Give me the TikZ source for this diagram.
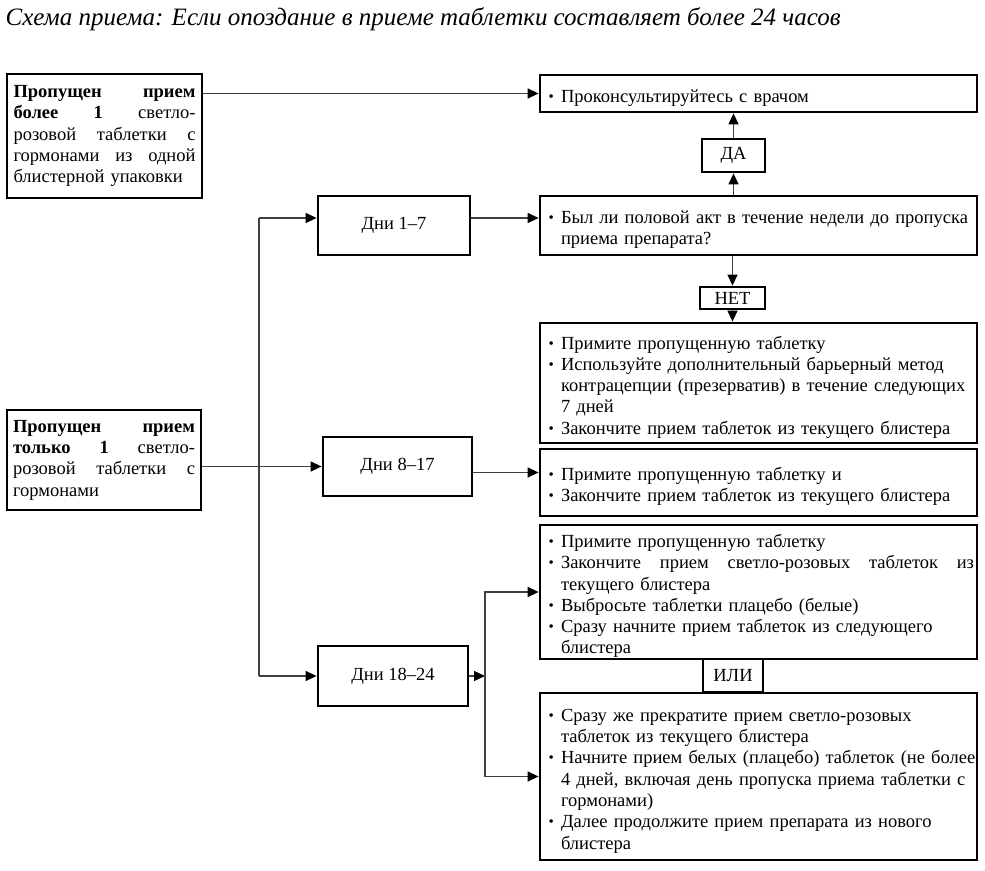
\documentclass[tikz,border=0pt]{standalone}
\usepackage{fontspec}
\setmainfont{Liberation Serif}
\usetikzlibrary{arrows.meta}
\newcommand\bul{\par\noindent\hangindent=14pt\hangafter=1\makebox[14pt][l]{\hspace{1.5pt}\fontsize{15}{15}\selectfont\raisebox{1pt}{\textbullet}}}
\newcommand\nl{\newline}
\begin{document}
\begin{tikzpicture}[x=1pt,y=-1pt,
  box/.style={draw=black,line width=2.8pt,inner sep=0pt,font=\fontsize{18.5}{21.3}\selectfont,
    execute at begin node={\parindent=0pt}},
  bbox/.style={box,text width=423pt,minimum width=437pt},
  lbox/.style={box,text width=182pt},
  dbox/.style={box},
  conn/.style={draw=black!75,line width=1.4pt},
  arr/.style={conn,-{Triangle[length=11pt,width=10pt,color=black]}}]
\useasboundingbox (0,0) rectangle (985,870);
\fill[white] (0,0) rectangle (985,870);

\node[anchor=west,inner sep=0pt,font=\fontsize{25}{28}\selectfont\itshape] (title) at (5.5,19)
  {Схема приема: Если опоздание в приеме таблетки составляет более 24 часов};

% left boxes
\node[lbox,minimum width=195pt,minimum height=124pt] (A) at (104.5,136) {%
\makebox[182pt][s]{\textbf{Пропущен}\hfill\textbf{прием}}\nl
\makebox[182pt][s]{\textbf{более}\hfill\textbf{1}\hfill светло-}\nl
\makebox[182pt][s]{розовой\hfill таблетки\hfill с}\nl
\makebox[182pt][s]{гормонами\hfill из\hfill одной}\nl
блистерной упаковки\par};

\node[lbox,minimum width=194pt,minimum height=100pt] (B) at (104,460) {%
\makebox[182pt][s]{\textbf{Пропущен}\hfill\textbf{прием}}\nl
\makebox[182pt][s]{\textbf{только}\hfill\textbf{1}\hfill светло-}\nl
\makebox[182pt][s]{розовой\hfill таблетки\hfill с}\nl
гормонами\par};

% day boxes
\node[dbox,minimum width=152pt,minimum height=59pt] (d1) at (394,225.5) {Дни 1–7};
\node[dbox,minimum width=149pt,minimum height=59pt] (d2) at (397.5,466.5) {Дни 8–17};
\node[dbox,minimum width=150pt,minimum height=60pt] (d3) at (393,676) {Дни 18–24};

% right boxes
\node[bbox,minimum height=37pt] (C) at (758.5,93.5) {\bul Проконсультируйтесь с врачом\par};
\node[box,minimum width=63pt,minimum height=33pt] (yes) at (733.5,155.5) {ДА};
\node[bbox,minimum height=59pt] (D) at (758.5,225.5) {%
\bul \mbox{Был ли половой акт в течение недели до пропуска}\nl приема препарата?\par};
\node[box,minimum width=65pt,minimum height=22pt] (no) at (732.5,298) {НЕТ};
\node[bbox,minimum height=120pt] (E) at (758.5,383) {%
\bul Примите пропущенную таблетку
\bul \mbox{Используйте дополнительный барьерный метод}\nl \mbox{контрацепции (презерватив) в течение следующих}\nl 7 дней
\bul \mbox{Закончите прием таблеток из текущего блистера}\par};
\node[bbox,minimum height=67pt] (F) at (758.5,482.5) {%
\bul Примите пропущенную таблетку и
\bul \mbox{Закончите прием таблеток из текущего блистера}\par};
\node[bbox,minimum height=134pt] (G) at (758.5,592) {%
\bul Примите пропущенную таблетку
\bul \makebox[413pt][s]{Закончите\hfill прием\hfill светло-розовых\hfill таблеток\hfill из}\nl текущего блистера
\bul \mbox{Выбросьте таблетки плацебо (белые)}
\bul \mbox{Сразу начните прием таблеток из следующего}\nl блистера\par};
\node[box,minimum width=60pt,minimum height=33pt] (or) at (733,675.5) {ИЛИ};
\node[bbox,minimum height=167pt] (H) at (758.5,776.5) {%
\bul \mbox{Сразу же прекратите прием светло-розовых}\nl \mbox{таблеток из текущего блистера}
\bul \mbox{Начните прием белых (плацебо) таблеток (не более}\nl \mbox{4 дней, включая день пропуска приема таблетки с}\nl гормонами)
\bul \mbox{Далее продолжите прием препарата из нового}\nl блистера\par};

% connectors
\draw[arr] (A.east |- C) -- (C.west);
\coordinate (vt) at (259,218);
\coordinate (vb) at (259,676);
\draw[conn] (vt) -- (vb);
\draw[arr] (vt) -- (vt -| d1.west);
\draw[arr] (vb) -- (d3.west);
\draw[arr] (B.east |- d2) -- (d2.west);
\draw[arr] ([yshift=7.5pt]d1.east) -- ([yshift=7.5pt]d1.east -| D.west);
\draw[arr] ([yshift=-6pt]d2.east) -- ([yshift=-6pt]d2.east -| F.west);
\coordinate (fork) at (485,676);
\draw[arr] (d3.east) -- (fork);
\draw[arr] (fork) |- (G.west);
\draw[arr] (fork) |- (H.west);
\draw[arr] (D.north -| yes) -- (yes.south);
\draw[arr] (yes.north) -- (yes.north |- C.south);
\draw[arr] (D.south -| no) -- (no.north);
\draw[arr] (no.south) -- (no.south |- E.north);
\end{tikzpicture}
\end{document}
